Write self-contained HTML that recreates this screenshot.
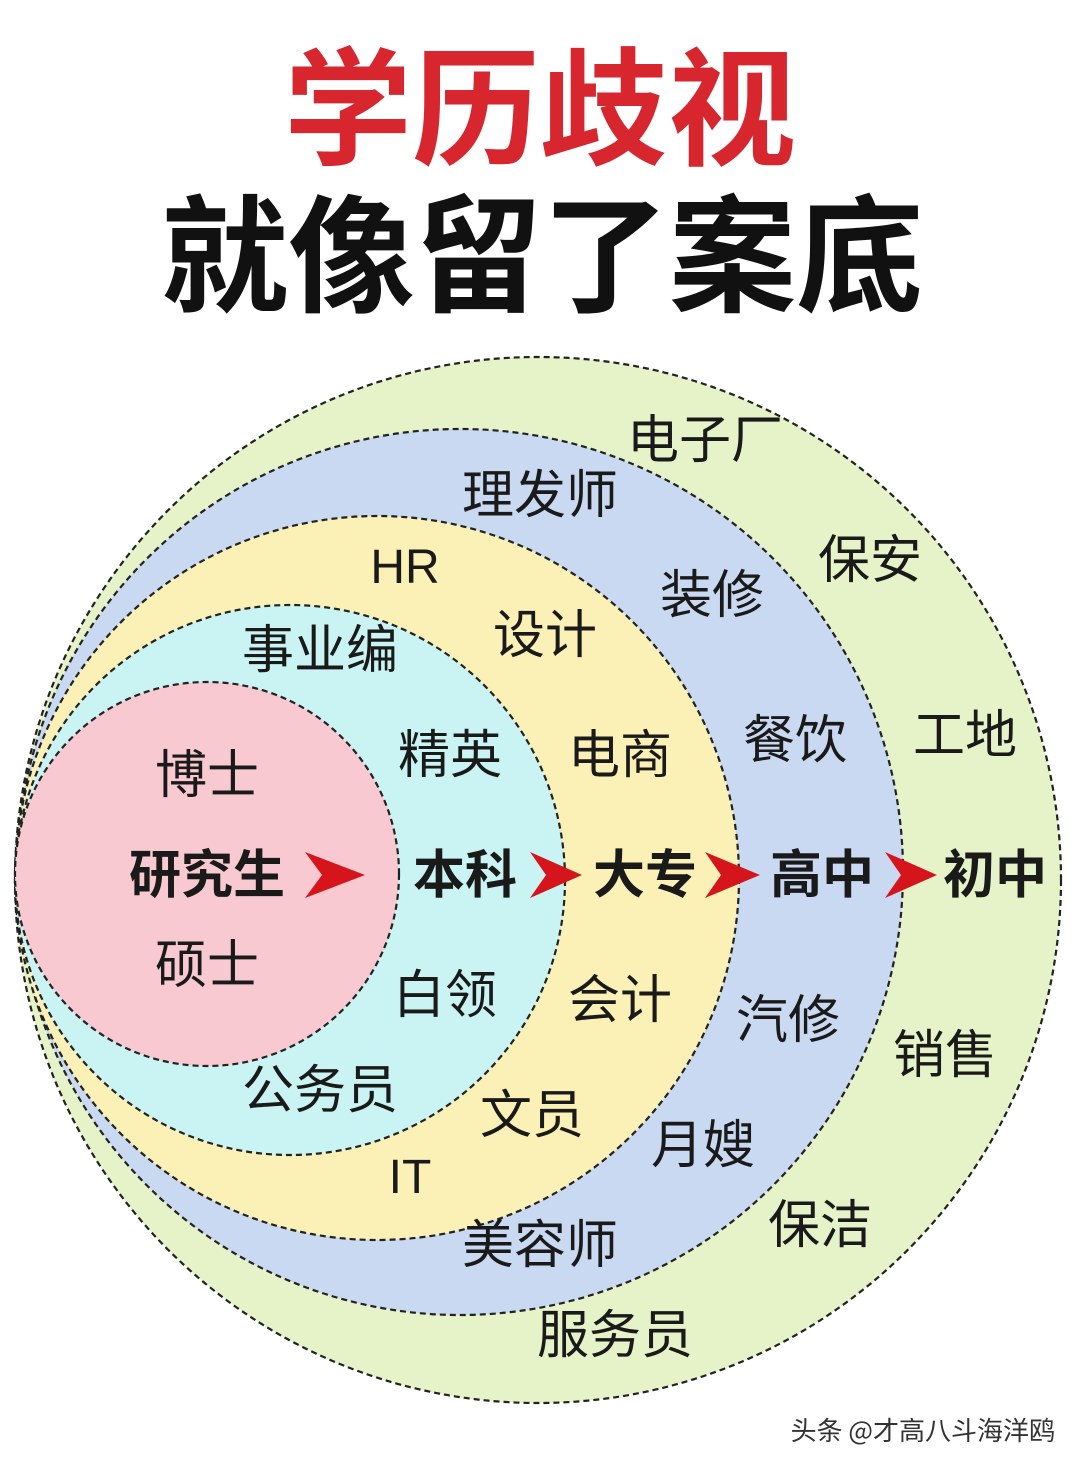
<!DOCTYPE html>
<html><head><meta charset="utf-8">
<style>
html,body{margin:0;padding:0;background:#fff;}
svg{display:block;}
text{font-family:"Liberation Sans","Noto Sans CJK SC",sans-serif;}
</style></head>
<body>
<svg width="1080" height="1464" viewBox="0 0 1080 1464" xmlns="http://www.w3.org/2000/svg">
<rect width="1080" height="1464" fill="#fff"/>
<text x="540" y="155" text-anchor="middle" font-size="128" font-weight="bold" fill="#d8262f" style="font-family:'Noto Sans CJK SC',sans-serif">学历歧视</text>
<text x="542" y="302" text-anchor="middle" font-size="127" font-weight="bold" fill="#111" style="font-family:'Noto Sans CJK SC',sans-serif">就像留了案底</text>
<g stroke="#222" stroke-width="2.2" stroke-dasharray="6,4">
<circle cx="538" cy="880" r="523" fill="#e6f2c7"/>
<circle cx="460" cy="872" r="443" fill="#cad9f2"/>
<circle cx="377" cy="878" r="362" fill="#fbf0b6"/>
<circle cx="290" cy="880" r="275" fill="#c9f4f3"/>
<circle cx="207" cy="874" r="192" fill="#f8c9d0"/>
</g>
<g fill="#d6141c">
<path d="M305 852 L365 875 L305 898 L322 875 Z"/>
<path d="M530 852 L582 875 L530 898 L546 875 Z"/>
<path d="M705 852 L760 875 L705 898 L721 875 Z"/>
<path d="M885 852 L937 875 L885 898 L901 875 Z"/>
</g>
<g font-size="52" fill="#1a1a1a" text-anchor="middle" style="font-family:'Noto Sans CJK SC',sans-serif">
<text x="705" y="458">电子厂</text>
<text x="540" y="513">理发师</text>
<text x="870" y="578">保安</text>
<text x="405" y="583" style="font-family:'Liberation Sans',sans-serif" font-size="48">HR</text>
<text x="712" y="613">装修</text>
<text x="545" y="653">设计</text>
<text x="320" y="668">事业编</text>
<text x="450" y="773">精英</text>
<text x="620" y="773">电商</text>
<text x="795" y="758">餐饮</text>
<text x="965" y="753">工地</text>
<text x="207" y="793">博士</text>
<text x="207" y="983">硕士</text>
<text x="445" y="1013">白领</text>
<text x="620" y="1018">会计</text>
<text x="788" y="1038">汽修</text>
<text x="945" y="1073">销售</text>
<text x="320" y="1108">公务员</text>
<text x="532" y="1133">文员</text>
<text x="703" y="1163">月嫂</text>
<text x="410" y="1193" style="font-family:'Liberation Sans',sans-serif" font-size="48">IT</text>
<text x="820" y="1243">保洁</text>
<text x="540" y="1263">美容师</text>
<text x="615" y="1353">服务员</text>
<g font-weight="bold">
<text x="207" y="893">研究生</text>
<text x="465" y="893">本科</text>
<text x="645" y="893">大专</text>
<text x="822" y="893">高中</text>
<text x="995" y="893">初中</text>
</g>
</g>
<text x="1055" y="1440" text-anchor="end" font-size="26" fill="#333" style="font-family:'Noto Sans CJK SC',sans-serif">头条 @才高八斗海洋鸥</text>
</svg>
</body></html>
